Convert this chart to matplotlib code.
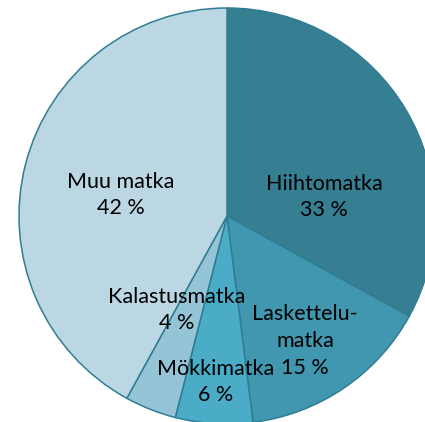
import matplotlib
matplotlib.use("Agg")
from matplotlib import pyplot as plt

# data
names = ["Hiihtomatka", "Laskettelu-\nmatka", "Mökkimatka", "Kalastusmatka", "Muu matka"]
shares = [33, 15, 6, 4, 42]
colors = ["#367f93", "#4197af", "#4aacc6", "#94c4d6", "#bcd7e4"]

# label centres (data units, radius = 1)
label_pos = [(0.466, 0.091), (0.375, -0.600), (-0.053, -0.798), (-0.240, -0.452), (-0.510, 0.101)]

plt.rcParams["font.family"] = ["Lato", "DejaVu Sans"]

fig = plt.figure(figsize=(4.25, 4.22), dpi=100)
ax = fig.add_axes([0, 0, 1, 1])

ax.pie(shares, colors=colors, startangle=90, counterclock=False, radius=1,
       wedgeprops=dict(edgecolor="#2f7d93", linewidth=1.1))

for name, v, (x, y) in zip(names, shares, label_pos):
    txt = name + "\n" + str(v) + " %"
    ax.text(x, y, txt, ha="center", va="center", fontsize=15.5, linespacing=1.42, color="black")

ax.set_xlim(-227 / 208, 198 / 208)
ax.set_ylim(-206 / 208, 216 / 208)
ax.set_aspect("auto")
ax.axis("off")

fig.savefig("out.png", dpi=100)
